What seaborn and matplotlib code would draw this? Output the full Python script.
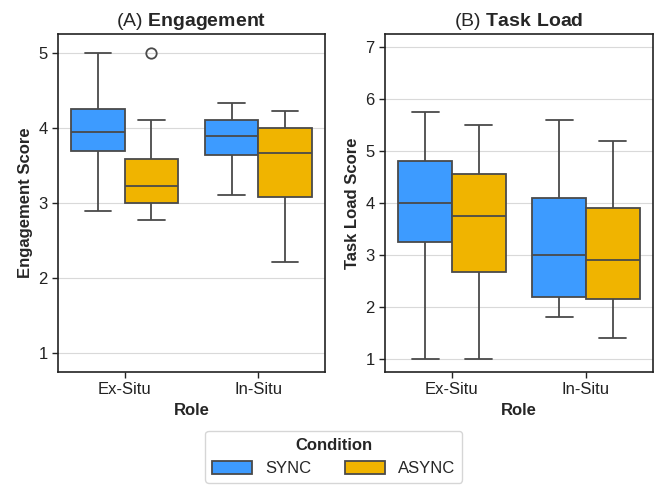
import pandas as pd
import matplotlib
matplotlib.use("Agg")
from matplotlib import pyplot as plt
import seaborn as sns

roles = ["Ex-Situ", "In-Situ"]
conditions = ["SYNC", "ASYNC"]
palette = {"SYNC": "#3D9BFF", "ASYNC": "#F0B400"}

# Engagement scores per role / condition
eng_ex_sync = [2.89, 3.69, 3.94, 4.25, 5.00]
eng_ex_async = [2.78, 2.90, 3.00, 3.10, 3.22, 3.40, 3.58, 4.11, 5.00]
eng_in_sync = [3.11, 3.64, 3.89, 4.11, 4.33]
eng_in_async = [2.22, 3.08, 3.67, 4.00, 4.22]

# Task load scores per role / condition
tl_ex_sync = [1.00, 3.25, 4.00, 4.80, 5.75]
tl_ex_async = [1.00, 2.68, 3.75, 4.55, 5.50]
tl_in_sync = [1.80, 2.20, 3.00, 4.10, 5.60]
tl_in_async = [1.40, 2.15, 2.90, 3.90, 5.20]


def make_df(groups):
    rows = []
    for (role, cond), vals in groups.items():
        for v in vals:
            rows.append({"Role": role, "Condition": cond, "Score": v})
    return pd.DataFrame(rows)


eng_df = make_df({("Ex-Situ", "SYNC"): eng_ex_sync, ("Ex-Situ", "ASYNC"): eng_ex_async,
                  ("In-Situ", "SYNC"): eng_in_sync, ("In-Situ", "ASYNC"): eng_in_async})
tl_df = make_df({("Ex-Situ", "SYNC"): tl_ex_sync, ("Ex-Situ", "ASYNC"): tl_ex_async,
                 ("In-Situ", "SYNC"): tl_in_sync, ("In-Situ", "ASYNC"): tl_in_async})

sns.set_style("whitegrid")
plt.rcParams["font.family"] = ["Liberation Sans", "DejaVu Sans"]
plt.rcParams["mathtext.fontset"] = "custom"
plt.rcParams["mathtext.rm"] = "Liberation Sans"
plt.rcParams["mathtext.bf"] = "Liberation Sans:bold"

fig = plt.figure(figsize=(6.54, 4.91), dpi=100)
ax1 = fig.add_axes([58 / 654, 119 / 491, 267 / 654, 338 / 491])
ax2 = fig.add_axes([385 / 654, 119 / 491, 268 / 654, 338 / 491])

panels = [
    (ax1, eng_df, r"(A) $\mathbf{Engagement}$", "Engagement Score", (0.75, 5.25), [1, 2, 3, 4, 5]),
    (ax2, tl_df, r"(B) $\mathbf{Task\ Load}$", "Task Load Score", (0.75, 7.25), [1, 2, 3, 4, 5, 6, 7]),
]

for ax, df, title, ylab, ylim, yticks in panels:
    sns.boxplot(data=df, x="Role", y="Score", hue="Condition", order=roles,
                hue_order=conditions, palette=palette, saturation=1, linecolor="#4a4a4a",
                linewidth=1.3, width=0.8, gap=0, fliersize=7.5, ax=ax,
                flierprops={"markerfacecolor": "none", "markeredgecolor": "#4a4a4a",
                            "markeredgewidth": 1.3})
    ax.set_title(title, fontsize=14)
    ax.set_ylabel(ylab, fontsize=12, fontweight="bold")
    ax.set_xlabel("Role", fontsize=12, fontweight="bold")
    ax.set_ylim(*ylim)
    ax.set_yticks(yticks)
    ax.tick_params(axis="both", labelsize=12, length=4, width=1, colors="#222222",
                   left=True, bottom=True)
    ax.grid(axis="x", visible=False)
    ax.grid(axis="y", color="#d9d9d9", linewidth=0.8)
    for s in ax.spines.values():
        s.set_color("#222222")
        s.set_linewidth(1.2)

handles, labels = ax1.get_legend_handles_labels()
ax1.get_legend().remove()
ax2.get_legend().remove()
fig.legend(handles, labels, loc="lower center", bbox_to_anchor=(0.51, 0.0), ncol=2,
           title="Condition", fontsize=12, title_fontproperties={"weight": "bold", "size": 12},
           handlelength=2.4, handleheight=0.8, columnspacing=2.0, frameon=True,
           edgecolor="#cccccc", fancybox=True, borderpad=0.4)

fig.savefig("out.png", dpi=100)
